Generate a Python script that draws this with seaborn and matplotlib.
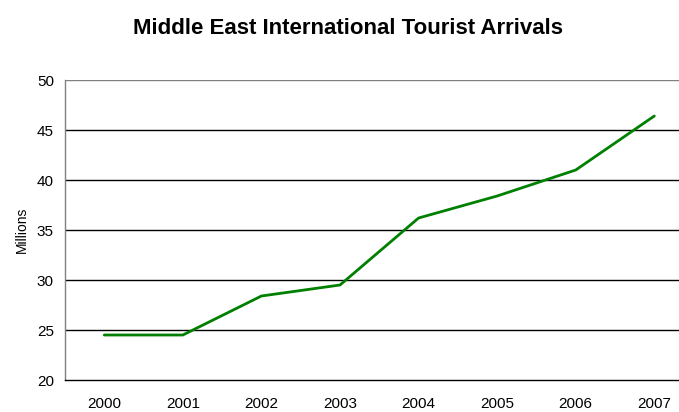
import matplotlib
matplotlib.use("Agg")
import matplotlib.pyplot as plt
import seaborn as sns
import pandas as pd

years = [2000, 2001, 2002, 2003, 2004, 2005, 2006, 2007]
arrivals = [24.5, 24.5, 28.4, 29.5, 36.2, 38.4, 41.0, 46.4]
yticks = [20, 25, 30, 35, 40, 45, 50]

df = pd.DataFrame({"year": years, "arrivals": arrivals})

sns.set_style("white")
plt.rcParams['font.family'] = ['Liberation Sans Narrow', 'Liberation Sans', 'DejaVu Sans']
plt.rcParams['text.color'] = 'black'
plt.rcParams['axes.labelcolor'] = 'black'
plt.rcParams['xtick.color'] = 'black'
plt.rcParams['ytick.color'] = 'black'

fig = plt.figure(figsize=(6.79, 4.12), dpi=100)
ax = fig.add_axes([65/679, 32/412, 628.6/679, 300/412])

for t in yticks[1:-1]:
    ax.axhline(t, color="black", lw=1.0, zorder=1)
ax.axhline(50, color="#808080", lw=1.0, zorder=1)

sns.lineplot(data=df, x="year", y="arrivals", color="#008000", lw=2.0, ax=ax, zorder=3)

ax.set_xlim(1999.5, 2007.5)
ax.set_ylim(20, 50)
ax.set_xticks(years)
ax.set_xticklabels([str(y) for y in years], fontsize=11)
ax.set_yticks(yticks)
ax.set_yticklabels([str(t) for t in yticks], fontsize=11)
ax.tick_params(length=0, pad=8)
ax.tick_params(axis='x', pad=12)
ax.set_xlabel("")
ax.set_ylabel("Millions", fontsize=10, labelpad=6)
for s in ["top", "right"]:
    ax.spines[s].set_visible(False)
ax.spines["left"].set_color("#808080")
ax.spines["bottom"].set_color("black")
ax.spines["left"].set_linewidth(1.0)
ax.spines["bottom"].set_linewidth(1.0)

fig.text(348/679, 1 - 28/412, "Middle East International Tourist Arrivals",
         ha="center", va="center", fontsize=16, fontweight="bold")

fig.savefig("out.png", dpi=100)
